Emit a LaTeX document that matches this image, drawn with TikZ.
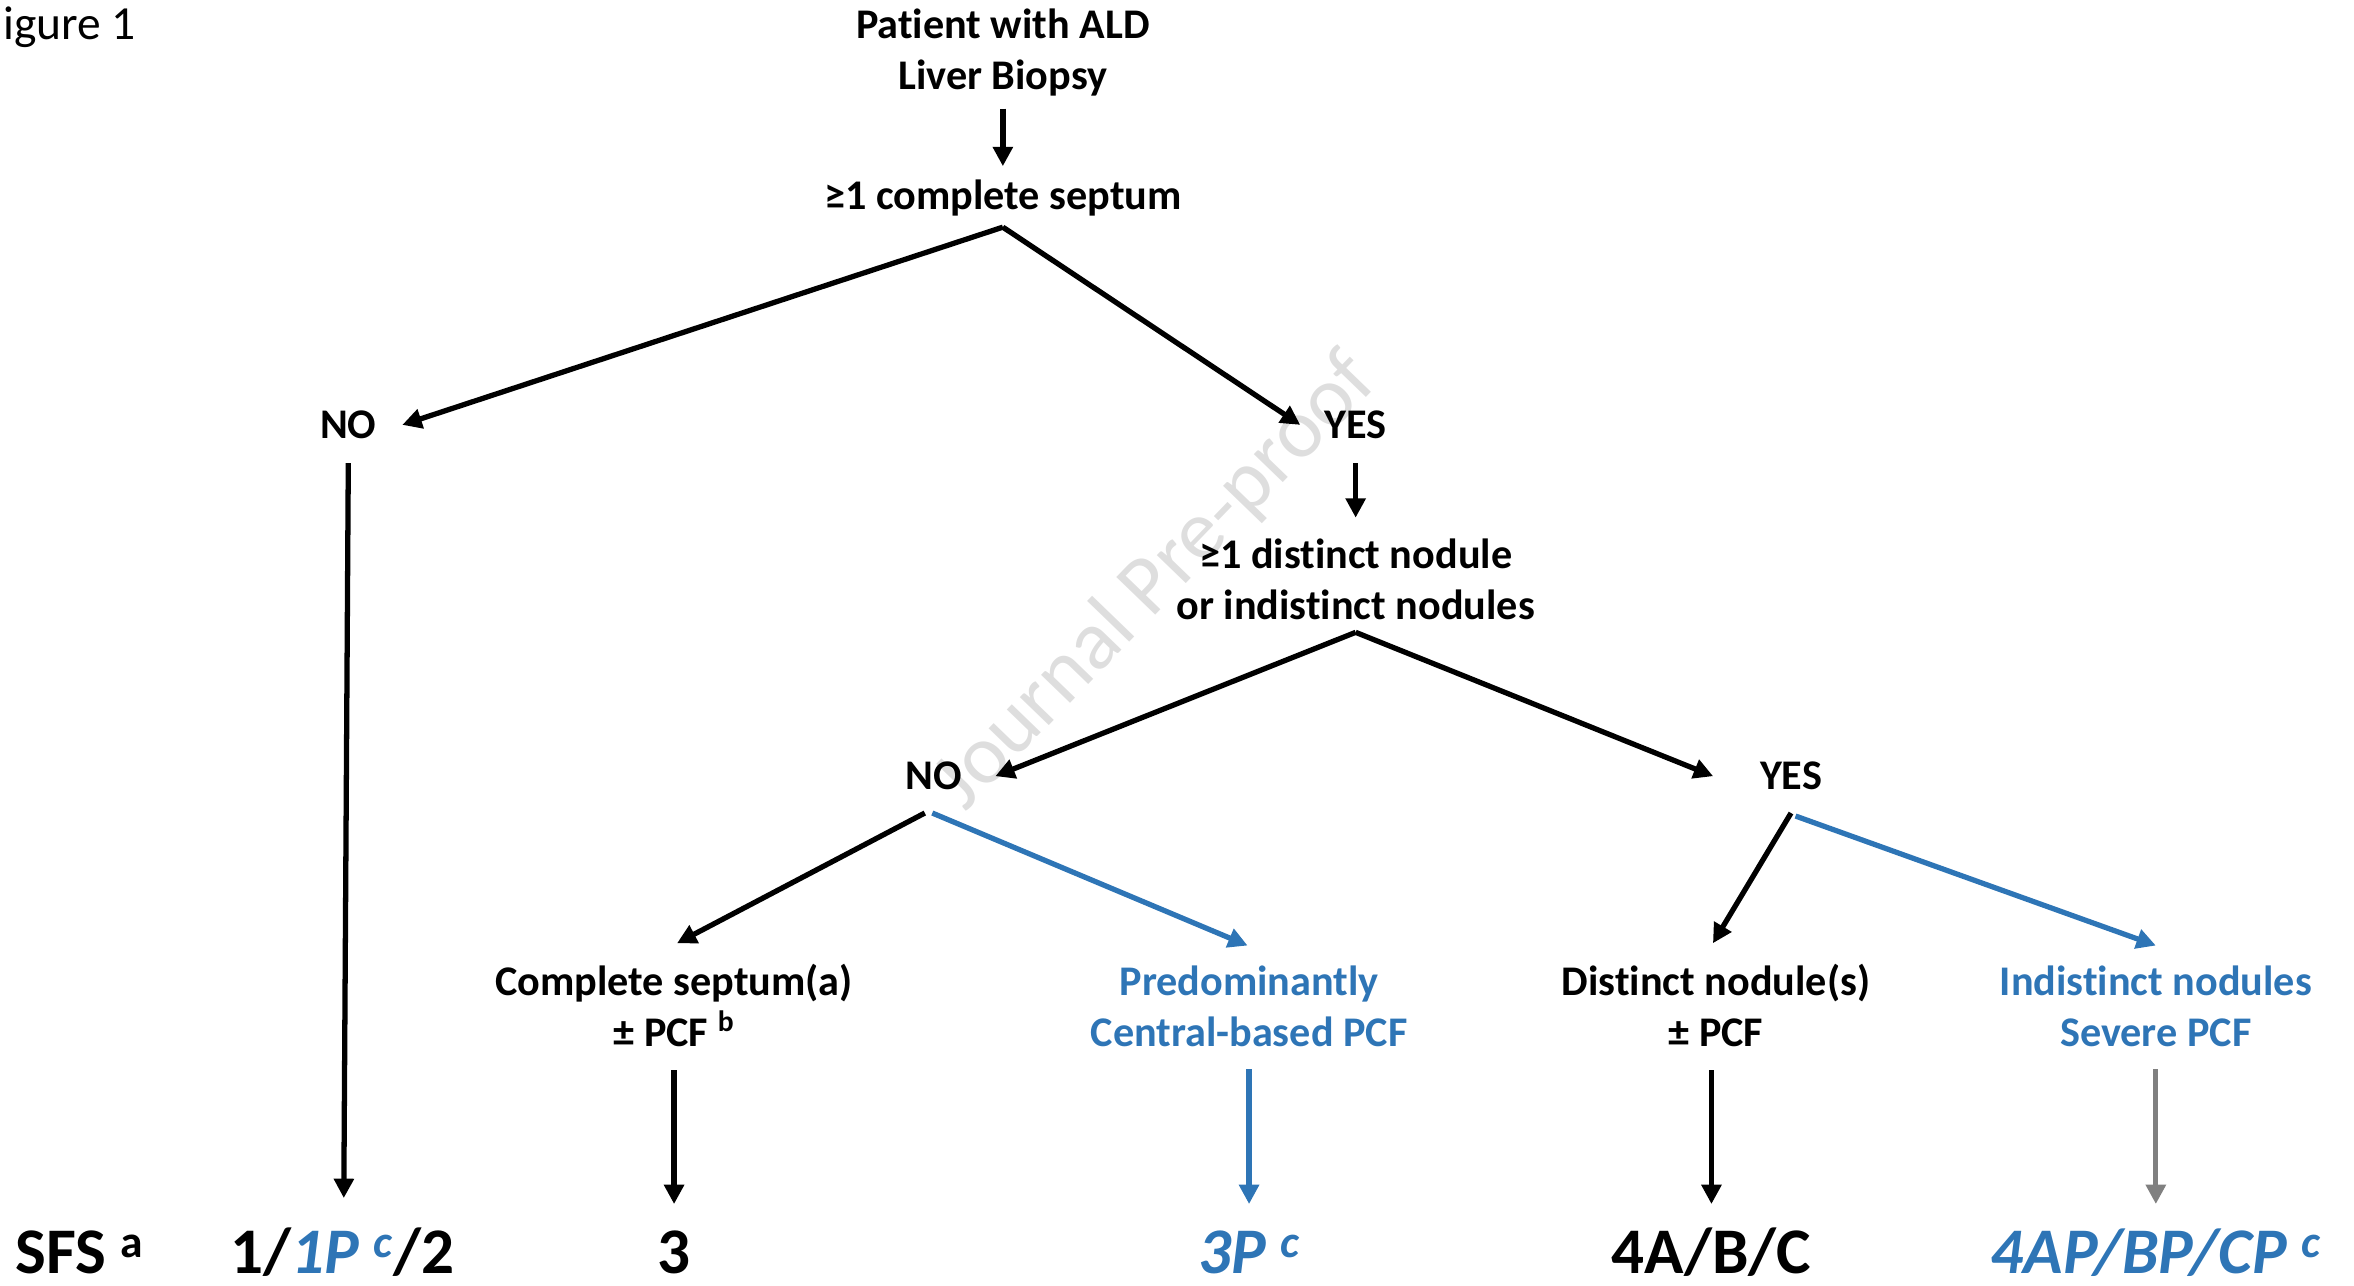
\documentclass[tikz,border=0pt]{standalone}
\usepackage{fontspec}
\setmainfont{Carlito}[RawFeature={-liga;-clig;-calt;-dlig}]
\usetikzlibrary{arrows.meta,calc}
\definecolor{sfsblue}{HTML}{2E75B6}
\definecolor{sfsgray}{HTML}{808080}
\definecolor{wmark}{HTML}{DEDEDE}
\tikzset{
  lbl/.style={font=\bfseries\fontsize{24}{29}\selectfont, align=center, inner sep=0pt},
  stage/.style={font=\bfseries\fontsize{37}{44}\selectfont, inner sep=0pt, anchor=base},
  arr/.style={line width=3pt, -{Triangle[length=11pt,width=11pt]}},
  barr/.style={arr, sfsblue},
}
\begin{document}
\begin{tikzpicture}[x=0.03cm,y=-0.03cm]
\useasboundingbox (0,0) rectangle (1568,856);
% watermark
\node[rotate=46, text=wmark, inner sep=0pt, font=\fontsize{48}{56}\selectfont] (wm) at (770,388) {Journal Pre-proof};

\node[anchor=west, inner sep=0pt, font=\fontsize{27}{32}\selectfont] (fig) at (2,18) {igure 1};

% decision tree
\node[lbl] (top) at (668,35) {Patient with ALD\\Liver Biopsy};
\node[lbl] (sept) at (668,132) {≥1 complete septum};
\node[lbl] (no1) at (232,283) {NO};
\node[lbl] (yes1) at (903,283) {YES};
\node[lbl] (nod) at (903,386) {≥1 distinct nodule\\or indistinct nodules};
\node[lbl] (no2) at (622,517) {NO};
\node[lbl] (yes2) at (1193,517) {YES};
\node[lbl] (cs) at (449,670) {Complete septum(a)\\± PCF \textsuperscript{b}};
\node[lbl, text=sfsblue] (pred) at (832,670) {Predominantly\\Central-based PCF};
\node[lbl] (dn) at (1143,670) {Distinct nodule(s)\\± PCF};
\node[lbl, text=sfsblue] (ind) at (1436,670) {Indistinct nodules\\Severe PCF};

% stages
\node[stage, anchor=base west] (sfs) at (10,848) {SFS \textsuperscript{a}};
\node[stage] (s12) at (228,848) {1/{\color{sfsblue}\itshape 1P \textsuperscript{c}}/2};
\node[stage] (s3) at (449,848) {3};
\node[stage, text=sfsblue] (s3p) at (832,848) {\itshape 3P \textsuperscript{c}};
\node[stage] (s4) at (1140,848) {4A/B/C};
\node[stage, text=sfsblue] (s4p) at (1436,848) {\itshape 4AP/BP/CP \textsuperscript{c}};

\draw[arr] ($(top.south)+(0,8)$) -- ($(sept.north)+(0,-9)$);
\draw[arr] ($(sept.south)+(0,7)$) -- ($(no1.east)+(17,0)$);
\draw[arr] ($(sept.south)+(0,7)$) -- ($(yes1.west)+(-16,0)$);
\draw[arr] ($(yes1.south)+(0,16)$) -- ($(nod.north)+(0,-14)$);
\draw[arr] ($(nod.south)+(0,8)$) -- ($(no2.east)+(22,0)$);
\draw[arr] ($(nod.south)+(0,8)$) -- ($(yes2.west)+(-31,0)$);
\draw[arr] ($(no2.south)+(-6,15)$) -- ($(cs.north)+(2,-14)$);
\draw[barr] ($(no2.south)+(-1,15)$) -- ($(pred.north)+(-1,-13)$);
\draw[arr] ($(yes2.south)+(0,15)$) -- ($(dn.north)+(-2,-14)$);
\draw[barr] ($(yes2.south)+(3,17)$) -- ($(ind.north)+(0,-13)$);

\draw[arr] ($(no1.south)+(0,16)$) -- ($(s12.base)+(1,-50)$);
\draw[arr] ($(cs.south)+(0,15)$) -- ($(s3.base)+(0,-46)$);
\draw[barr] ($(pred.south)+(0,15)$) -- ($(s3p.base)+(0,-46)$);
\draw[arr] ($(dn.south)+(-3,15)$) -- ($(s4.base)+(0,-46)$);
\draw[arr, sfsgray] ($(ind.south)+(0,15)$) -- ($(s4p.base)+(0,-46)$);
\end{tikzpicture}
\end{document}
